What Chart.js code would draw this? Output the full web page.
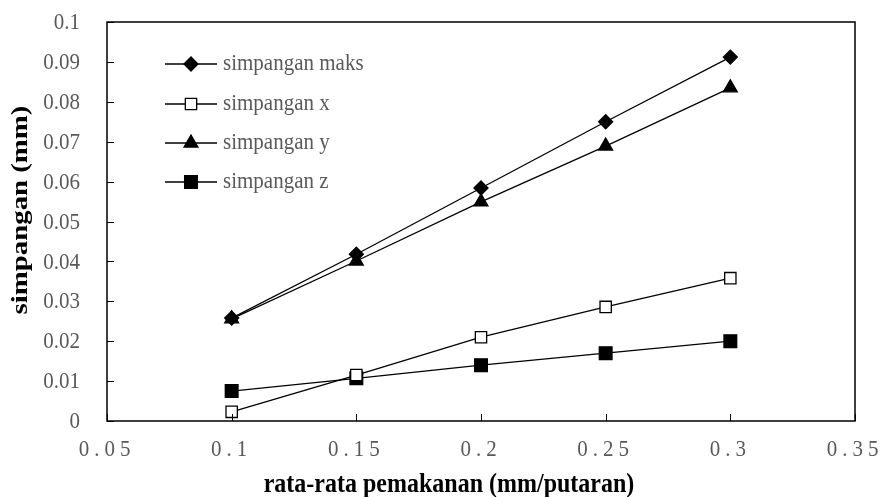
<!DOCTYPE html>
<html>
<head>
<meta charset="utf-8">
<script src="https://cdn.jsdelivr.net/npm/chart.js@4.4.0/dist/chart.umd.min.js"></script>
<style>
  html, body { margin: 0; padding: 0; background: #fff; }
  #wrap { width: 880px; height: 497px; }
</style>
</head>
<body>
<div id="wrap"><canvas id="chart"></canvas></div>
<script>
// data
const feedRates = [0.1, 0.15, 0.2, 0.25, 0.3];
const simpanganMaks = [0.0258, 0.0418, 0.0584, 0.0750, 0.0912];
const simpanganX = [0.0023, 0.0115, 0.0210, 0.0286, 0.0358];
const simpanganY = [0.0256, 0.0401, 0.0549, 0.0689, 0.0835];
const simpanganZ = [0.0075, 0.0107, 0.0140, 0.0170, 0.0200];
const seriesNames = ['simpangan maks', 'simpangan x', 'simpangan y', 'simpangan z'];
const xTitle = 'rata-rata pemakanan (mm/putaran)';
const yTitle = 'simpangan (mm)';

const FONT = "'Liberation Serif', 'Times New Roman', serif";
const TICK_GREY = '#595959';
const SY = 1.12; // the original text looks stretched vertically

function points(vals) {
    return feedRates.map((x, i) => ({ x: x, y: vals[i] }));
}

function series(label, vals, style, radius, filled) {
    return {
        label: label,
        data: points(vals),
        showLine: true,
        borderColor: '#000',
        borderWidth: 1.3,
        pointStyle: style,
        pointRadius: radius,
        pointBackgroundColor: filled ? '#000' : '#fff',
        pointBorderColor: '#000',
        pointBorderWidth: 1.3
    };
}

const datasets = [
    series(seriesNames[0], simpanganMaks, 'rectRot', 7, true),
    series(seriesNames[1], simpanganX, 'rect', 8, false),
    series(seriesNames[2], simpanganY, 'triangle', 8, true),
    series(seriesNames[3], simpanganZ, 'rect', 9, true)
];

function fmt(v) {
    return String(Math.round(v * 100) / 100);
}

// text with a vertical stretch, optionally rotated
function stretchText(ctx, text, x, y, rotate, sy) {
    const k = sy || SY;
    ctx.save();
    ctx.translate(x, y);
    if (rotate) {
        ctx.rotate(-Math.PI / 2);
        ctx.scale(k, 1);
    } else {
        ctx.scale(1, k);
    }
    ctx.fillText(text, 0, 0);
    ctx.restore();
}

// box, inner ticks, all texts and the in-plot legend
const framePlugin = {
    id: 'frame',
    afterDraw(chart) {
        const ctx = chart.ctx;
        const a = chart.chartArea;
        const xs = chart.scales.x, ys = chart.scales.y;
        ctx.save();
        ctx.strokeStyle = '#000';
        ctx.lineWidth = 1.5;
        ctx.strokeRect(a.left, a.top, a.right - a.left, a.bottom - a.top);

        ctx.lineWidth = 1;
        ctx.beginPath();
        ys.ticks.forEach(t => {
            const py = Math.round(ys.getPixelForValue(t.value)) + 0.5;
            ctx.moveTo(a.left, py);
            ctx.lineTo(a.left + 7, py);
        });
        xs.ticks.forEach(t => {
            const px = Math.round(xs.getPixelForValue(t.value)) + 0.5;
            ctx.moveTo(px, a.bottom);
            ctx.lineTo(px, a.bottom - 7);
        });
        ctx.stroke();

        // y tick labels
        ctx.fillStyle = TICK_GREY;
        ctx.font = '21px ' + FONT;
        ctx.textBaseline = 'middle';
        ctx.textAlign = 'right';
        ys.ticks.forEach(t => {
            stretchText(ctx, fmt(t.value), a.left - 27, ys.getPixelForValue(t.value) + 1);
        });

        // x tick labels, wide letter spacing
        ctx.textAlign = 'center';
        ctx.letterSpacing = '5px';
        xs.ticks.forEach(t => {
            stretchText(ctx, fmt(t.value), xs.getPixelForValue(t.value), a.bottom + 29);
        });
        ctx.letterSpacing = '0px';

        // axis titles
        ctx.fillStyle = '#000';
        ctx.font = 'bold 24px ' + FONT;
        ctx.textBaseline = 'alphabetic';
        stretchText(ctx, xTitle, (a.left + a.right) / 2 - 32, 492);
        ctx.textBaseline = 'middle';
        stretchText(ctx, yTitle, 21, 210, true, 1.2);

        // legend
        const lx = 165, rowY = [64, 104, 143, 182];
        ctx.textAlign = 'left';
        ctx.font = '21px ' + FONT;
        chart.data.datasets.forEach((ds, i) => {
            const y = rowY[i];
            ctx.strokeStyle = '#000';
            ctx.lineWidth = 1.3;
            ctx.beginPath();
            ctx.moveTo(lx, y);
            ctx.lineTo(lx + 52, y);
            ctx.stroke();
            ctx.fillStyle = ds.pointBackgroundColor;
            Chart.helpers.drawPoint(ctx, {
                pointStyle: ds.pointStyle,
                radius: ds.pointRadius,
                borderWidth: ds.pointBorderWidth,
                rotation: 0
            }, lx + 26, y);
            ctx.fillStyle = TICK_GREY;
            stretchText(ctx, ds.label, lx + 58, y);
        });
        ctx.restore();
    }
};

new Chart(document.getElementById('chart'), {
    type: 'scatter',
    data: { datasets: datasets },
    plugins: [framePlugin],
    options: {
        responsive: true,
        maintainAspectRatio: false,
        animation: false,
        layout: { padding: { top: 22, right: 25, left: 0, bottom: 0 } },
        plugins: {
            legend: { display: false },
            tooltip: { enabled: false }
        },
        scales: {
            x: {
                type: 'linear',
                min: 0.05,
                max: 0.35,
                grid: { display: false, drawTicks: false },
                border: { display: false },
                ticks: { stepSize: 0.05, display: false },
                afterFit(scale) { scale.height = 76; }
            },
            y: {
                min: 0,
                max: 0.1,
                grid: { display: false, drawTicks: false },
                border: { display: false },
                ticks: { stepSize: 0.01, display: false },
                afterFit(scale) { scale.width = 107; }
            }
        }
    }
});
</script>
</body>
</html>
